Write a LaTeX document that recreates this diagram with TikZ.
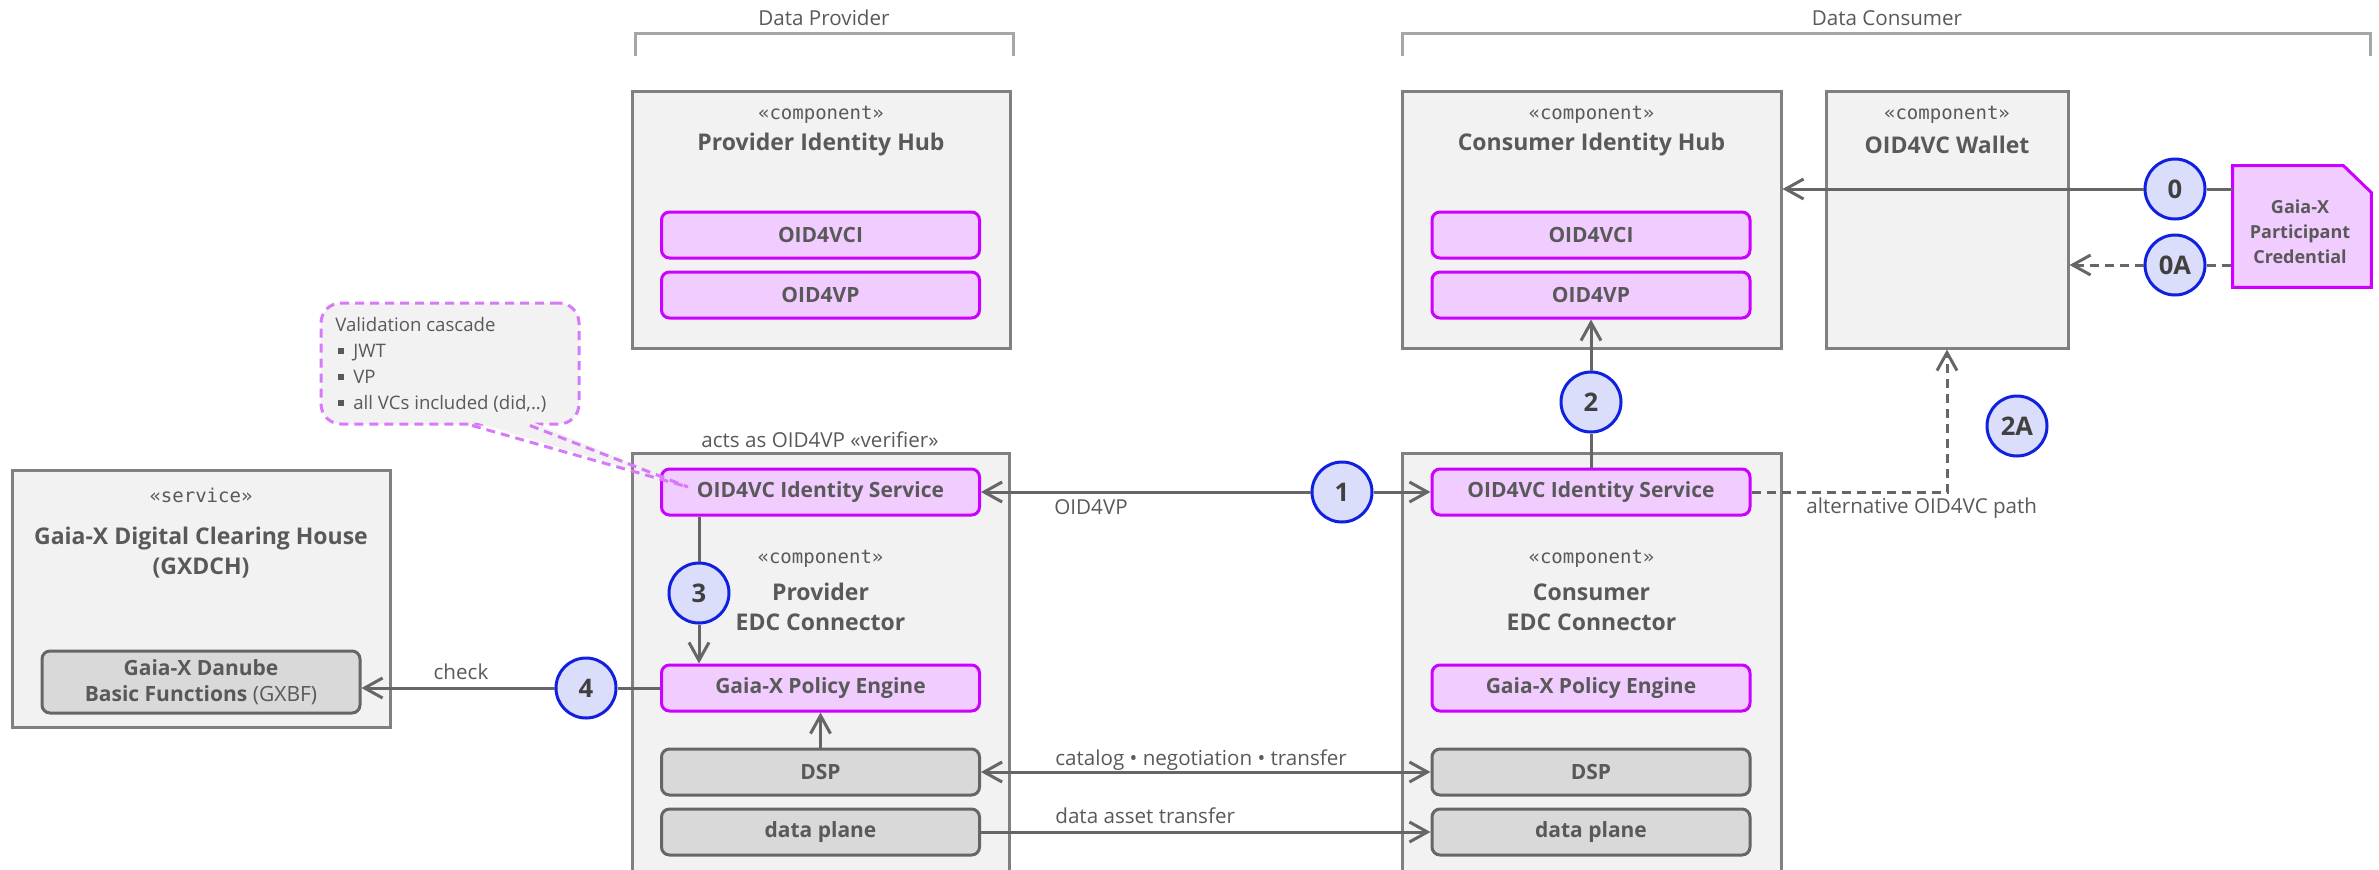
\documentclass[tikz,border=0pt]{standalone}
\usepackage{fontspec}
\setmainfont{Open Sans}
\setmonofont{DejaVu Sans Mono}
\usetikzlibrary{arrows.meta}
\definecolor{boxfill}{RGB}{242,242,242}
\definecolor{boxline}{RGB}{128,128,128}
\definecolor{pfill}{RGB}{240,204,255}
\definecolor{pline}{RGB}{204,0,255}
\definecolor{gfill}{RGB}{217,217,217}
\definecolor{gline}{RGB}{102,102,102}
\definecolor{cline}{RGB}{102,102,102}
\definecolor{nfill}{RGB}{218,222,250}
\definecolor{nline}{RGB}{16,32,224}
\definecolor{txt}{RGB}{89,89,89}
\definecolor{ntxt}{RGB}{64,64,64}
\definecolor{brk}{RGB}{166,166,166}
\definecolor{notecol}{RGB}{214,122,250}
\newcommand\fttitle{\fontsize{11.5pt}{15pt}\selectfont\bfseries}
\newcommand\ftlabel{\fontsize{10.5pt}{13pt}\selectfont\bfseries}
\newcommand\ftreg{\fontsize{10.3pt}{12pt}\selectfont}
\newcommand\ftnote{\fontsize{9.3pt}{12pt}\selectfont}
\newcommand\ftster{\fontsize{9.5pt}{12pt}\selectfont\ttfamily}
\newcommand\ftnum{\fontsize{12.8pt}{15pt}\selectfont\bfseries}
\newcommand\ftcred{\fontsize{9pt}{12.5pt}\selectfont\bfseries}
\newcommand\bul{\hspace{1.5pt}\rule[1.6pt]{3pt}{3pt}\hspace{4.5pt}}
\begin{document}
\begin{tikzpicture}[x=0.5pt,y=-0.5pt,
  every node/.style={inner sep=0pt, text=txt},
  cont/.style={draw=boxline, fill=boxfill, line width=1.5pt, rectangle},
  pbox/.style={draw=pline, fill=pfill, line width=1.5pt, rounded corners=4pt, minimum width=159pt, minimum height=23pt, font=\ftlabel},
  gbox/.style={draw=gline, fill=gfill, line width=1.5pt, rounded corners=4pt, minimum width=159pt, minimum height=23pt, font=\ftlabel},
  num/.style={circle, draw=nline, fill=nfill, line width=1.5pt, minimum size=30pt, font=\ftnum, text=ntxt},
  conn/.style={draw=cline, line width=1.5pt},
  arr/.style={-{Straight Barb[length=9pt,width=10pt]}},
  arrb/.style={{Straight Barb[length=9pt,width=10pt]}-{Straight Barb[length=9pt,width=10pt]}},
  dsh/.style={dash pattern=on 4.5pt off 3pt},
  ster/.style={font=\ftster},
  ttl/.style={font=\fttitle},
  lbl/.style={font=\ftreg},
  notetxt/.style={font=\ftnote, anchor=base west}
]
\useasboundingbox (0,0) rectangle (2379,869);
\clip (0,0) rectangle (2379,869);

% brackets
\node[lbl, anchor=base] (dplab) at (824,25) {Data Provider};
\node[lbl, anchor=base] (dclab) at (1887,25) {Data Consumer};
\draw[brk, line width=1.5pt] (635,56) -- (635,33) -- (1013,33) -- (1013,56);
\draw[brk, line width=1.5pt] (1402,56) -- (1402,33) -- (2370,33) -- (2370,56);

% note callout
\node[draw=notecol, fill=boxfill, line width=1.5pt, dsh, rounded corners=10pt, minimum width=129pt, minimum height=60.5pt] (note) at (450,363.5) {};
\fill[boxfill] (472,421) -- (688,487) -- (530,421) -- cycle;
\coordinate (tip) at (688,487);
\node[notetxt] (nt1) at (335,331) {Validation cascade};
\node[notetxt] (nt2) at (335,357.5) {\bul JWT};
\node[notetxt] (nt3) at (335,383) {\bul VP};
\node[notetxt] (nt4) at (335,409) {\bul all VCs included (did,..)};

% containers
\node[cont, minimum width=189pt, minimum height=128.5pt] (phub) at (821,219.5) {};
\node[cont, minimum width=189.5pt, minimum height=128.5pt] (chub) at (1591.5,219.5) {};
\node[cont, minimum width=121pt, minimum height=128.5pt] (wal) at (1947,219.5) {};
\node[cont, minimum width=188.5pt, minimum height=209pt] (pedc) at (820.5,662) {};
\node[cont, minimum width=189.5pt, minimum height=209pt] (cedc) at (1591.5,662) {};
\node[cont, minimum width=189pt, minimum height=128.5pt] (gx) at (201,598.5) {};

% container texts
\node[ster] (phubs) at (821,115) {«component»};
\node[ttl] (phubt) at (821,145) {Provider Identity Hub};
\node[ster] (chubs) at (1591.5,115) {«component»};
\node[ttl] (chubt) at (1591.5,145) {Consumer Identity Hub};
\node[ster] (wals) at (1947,115) {«component»};
\node[ttl] (walt) at (1947,145) {OID4VC Wallet};
\node[ster] (pedcs) at (820.5,559) {«component»};
\node[ttl, align=center] (pedct) at (820.5,607) {Provider\\EDC Connector};
\node[ster] (cedcs) at (1591.5,559) {«component»};
\node[ttl, align=center] (cedct) at (1591.5,607) {Consumer\\EDC Connector};
\node[ster] (gxs) at (201,495) {«service»};
\node[ttl, align=center] (gxt) at (201,553) {Gaia-X Digital Clearing House\\(GXDCH)};
\node[lbl, anchor=base] (acts) at (820,447) {acts as OID4VP «verifier»};

% sub boxes
\node[pbox] (pvci) at (820.5,235) {OID4VCI};
\node[pbox] (pvp) at (820.5,295) {OID4VP};
\node[pbox] (cvci) at (1591,235) {OID4VCI};
\node[pbox] (cvp) at (1591,295) {OID4VP};
\node[pbox] (pis) at (820.5,492) {OID4VC Identity Service};
\node[pbox] (ppe) at (820.5,688) {Gaia-X Policy Engine};
\node[gbox] (pdsp) at (820.5,772) {DSP};
\node[gbox] (pdp) at (820.5,832) {data plane};
\node[pbox] (cis) at (1591,492) {OID4VC Identity Service};
\node[pbox] (cpe) at (1591,688) {Gaia-X Policy Engine};
\node[gbox] (cdsp) at (1591,772) {DSP};
\node[gbox] (cdp) at (1591,832) {data plane};
\node[gbox, minimum height=31pt, align=center] (gxbf) at (201,682) {Gaia-X Danube\\Basic Functions {\mdseries (GXBF)}};

% credential
\node[minimum width=69pt, minimum height=60.5pt] (cred) at (2302,226.5) {};
\draw[draw=pline, fill=pfill, line width=1.5pt] (cred.south west) -- (cred.north west) -- ([xshift=-14pt]cred.north east) -- ([yshift=-13.5pt]cred.north east) -- (cred.south east) -- cycle;
\node[font=\ftcred, align=center] (credt) at (2300,232) {Gaia-X\\Participant\\Credential};

% numbered circles
\node[num] (n0) at (2175,189) {0};
\node[num] (n0a) at (2175,265) {0A};
\node[num] (n1) at (1342,492) {1};
\node[num] (n2) at (1591,402) {2};
\node[num] (n2a) at (2017,426) {2A};
\node[num] (n3) at (699,593) {3};
\node[num] (n4) at (586,688) {4};

% connectors
\draw[conn] (n0) -- (n0 -| cred.west);
\draw[conn,arr] (n0) -- (n0 -| chub.east);
\draw[conn,dsh] (n0a) -- (n0a -| cred.west);
\draw[conn,dsh,arr] (n0a) -- (n0a -| wal.east);
\draw[conn,arr] (n1) -- (pis.east);
\draw[conn,arr] (n1) -- (cis.west);
\draw[conn] (cis.north) -- (n2);
\draw[conn,arr] (n2) -- (cvp.south);
\draw[conn,dsh,arr] (cis.east) -| (wal.south);
\draw[conn] (n3 |- pis.south) -- (n3);
\draw[conn,arr] (n3) -- (n3 |- ppe.north);
\draw[conn] (ppe.west) -- (n4);
\draw[conn,arr] (n4) -- (n4 -| gxbf.east);
\draw[conn,arrb] (pdsp.east) -- (cdsp.west);
\draw[conn,arr] (pdp.east) -- (cdp.west);
\draw[conn,arr] (pdsp.north) -- (ppe.south);

% connector labels
\node[lbl, anchor=base west] (l1) at (1054,514) {OID4VP};
\node[lbl, anchor=base] (l4) at (461,679) {check};
\node[lbl, anchor=base west] (ldsp) at (1055,765) {catalog • negotiation • transfer};
\node[lbl, anchor=base west] (ldp) at (1055,823) {data asset transfer};
\node[lbl, anchor=base west] (l2a) at (1806,513) {alternative OID4VC path};

% note pointer
\draw[notecol, line width=1.5pt, dsh] ([xshift=11pt]note.south) -- (tip);
\draw[notecol, line width=1.5pt, dsh] ([xshift=40pt]note.south) -- (tip);
\end{tikzpicture}
\end{document}
